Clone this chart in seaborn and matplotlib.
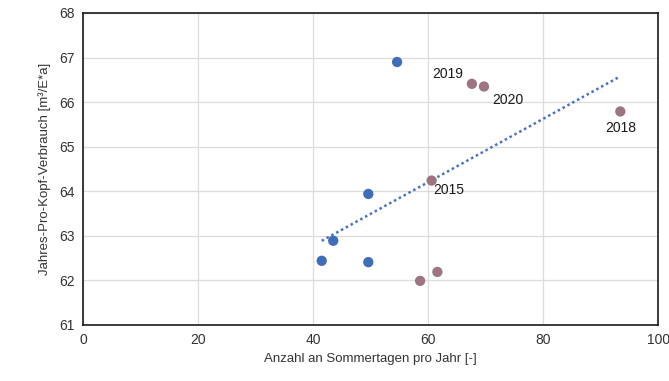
import matplotlib
matplotlib.use("Agg")
import matplotlib.pyplot as plt
import seaborn as sns
import numpy as np
import pandas as pd

# Summer days per year vs. annual per-capita consumption
blue_days = [54.6, 49.6, 43.5, 41.5, 49.6]
blue_cons = [66.90, 63.94, 62.89, 62.44, 62.41]

red_days = [67.6, 69.7, 93.4, 60.6, 58.6, 61.6]
red_cons = [66.41, 66.35, 65.79, 64.24, 61.99, 62.19]
red_years = ["2019", "2020", "2018", "2015", "", ""]

x_ticks = [0, 20, 40, 60, 80, 100]
y_ticks = [61, 62, 63, 64, 65, 66, 67, 68]

df = pd.DataFrame({
    "days": blue_days + red_days,
    "cons": blue_cons + red_cons,
    "group": ["a"] * len(blue_days) + ["b"] * len(red_days),
})

sns.set_style("white")
plt.rcParams["font.family"] = ["Liberation Sans", "DejaVu Sans"]

fig = plt.figure(figsize=(6.69, 3.81), dpi=100)
ax = fig.add_axes([0.124, 0.147, 0.86, 0.819])

ax.grid(True, color="#dcdcdc", linewidth=0.9, zorder=0)
ax.set_axisbelow(True)

# Linear trend across all points
coef = np.polyfit(df["days"], df["cons"], 1)
xs = np.array([df["days"].min(), df["days"].max()])
sns.lineplot(x=xs, y=np.polyval(coef, xs), ax=ax, color="#4472c4",
             linestyle=(0, (1, 1.2)), linewidth=1.8, zorder=2)

sns.scatterplot(data=df, x="days", y="cons", hue="group",
                palette={"a": "#3e6db9", "b": "#9c7580"}, s=55,
                edgecolor="none", legend=False, ax=ax, zorder=3)

offsets = {"2019": (-6, 2, "right", "bottom"),
           "2020": (6, -5, "left", "top"),
           "2018": (0, -7, "center", "top"),
           "2015": (1, -2, "left", "top")}
for d, c, yr in zip(red_days, red_cons, red_years):
    if yr:
        dx, dy, ha, va = offsets[yr]
        ax.annotate(yr, (d, c), xytext=(dx, dy), textcoords="offset points",
                    ha=ha, va=va, fontsize=10, color="#1a1a1a")

ax.set_xlim(0, 100)
ax.set_ylim(61, 68)
ax.set_xticks(x_ticks)
ax.set_yticks(y_ticks)
ax.tick_params(labelsize=10, colors="#333333", length=0, pad=6)

for s in ax.spines.values():
    s.set_visible(True)
    s.set_color("#1a1a1a")
    s.set_linewidth(1.2)

ax.set_xlabel("Anzahl an Sommertagen pro Jahr [-]", fontsize=9.5,
              color="#333333", labelpad=4)
ax.set_ylabel("Jahres-Pro-Kopf-Verbrauch [m³/E*a]", fontsize=9.5,
              color="#333333", labelpad=6)

fig.savefig("out.png", dpi=100)
